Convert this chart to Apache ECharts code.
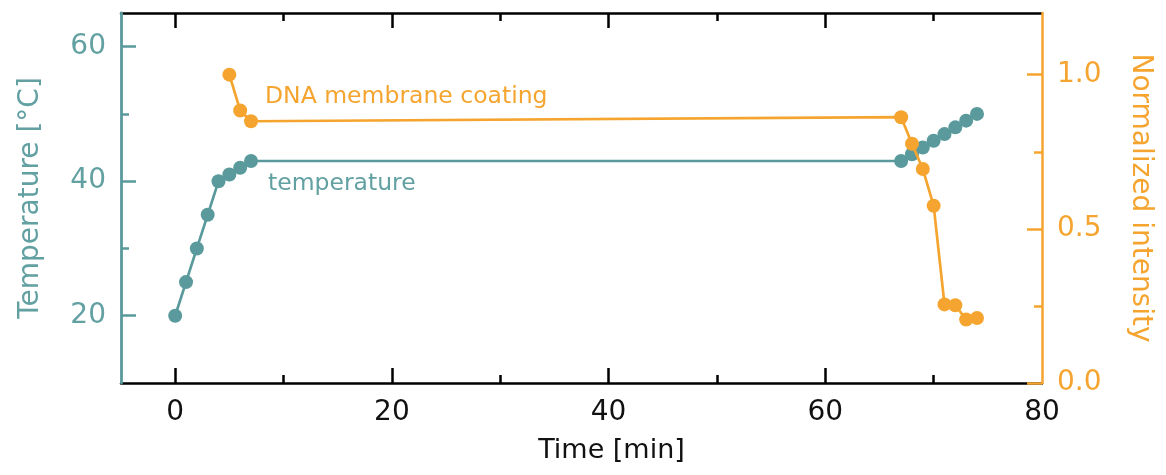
<!DOCTYPE html>
<html>
<head>
<meta charset="utf-8">
<script src="https://cdn.jsdelivr.net/npm/echarts@6/dist/echarts.min.js"></script>
<style>
html,body{margin:0;padding:0;background:#fff;}
#chart{width:1166px;height:475px;}
</style>
</head>
<body>
<div id="chart"></div>
<script>
// ---- data ----
var tempTime = [0, 1, 2, 3, 4, 5, 6, 7, 67, 68, 69, 70, 71, 72, 73, 74];
var tempValues = [20, 25, 30, 35, 40, 41, 42, 43, 43, 44, 45, 46, 47, 48, 49, 50];
var dnaTime = [5, 6, 7, 67, 68, 69, 70, 71, 72, 73, 74];
var dnaValues = [1.0, 0.884, 0.849, 0.862, 0.776, 0.694, 0.575, 0.255, 0.252, 0.206, 0.211];

var xTickLabels = [0, 20, 40, 60, 80];
var xMajorTicks = [0, 20, 40, 60];
var xMinorTicks = [10, 30, 50, 70];
var tempTicks = [20, 40, 60];
var tempMinorTicks = [30, 50];
var intTicks = [0, 0.5, 1.0];
var intMinorTicks = [0.25, 0.75];

var labelDNA = 'DNA membrane coating';
var labelTemp = 'temperature';

// ---- styles ----
var TEAL = '#5a9a9c';
var TEAL_TXT = '#62a0a2';
var ORANGE = '#f5a52f';
var FONT = 'DejaVu Sans';

function pairs(xs, ys) { return xs.map(function (x, i) { return [x, ys[i]]; }); }

var xRange = {min: -5, max: 80};
var tRange = {min: 10, max: 65};
var iRange = {min: 0, max: 1.2};

function hiddenAxisBase() {
  return {
    axisLine: {show: false, onZero: false},
    axisLabel: {show: false},
    splitLine: {show: false}
  };
}

var chart = echarts.init(document.getElementById('chart'), null, {renderer: 'canvas'});
chart.setOption({
  animation: false,
  backgroundColor: '#fff',
  grid: {left: 121, right: 124, top: 13, bottom: 92, containLabel: false},
  xAxis: [
    {
      type: 'value', position: 'bottom', min: xRange.min, max: xRange.max,
      name: 'Time [min]', nameLocation: 'middle', nameGap: 54,
      nameTextStyle: {fontFamily: FONT, fontSize: 27, color: '#111', padding: [0, 0, 0, 60]},
      axisLine: {show: true, onZero: false, lineStyle: {color: '#000', width: 2.5}},
      axisTick: {show: true, inside: true, length: 15, customValues: xMajorTicks, lineStyle: {color: '#000', width: 2.5}},
      axisLabel: {show: true, customValues: xTickLabels, margin: 16, fontFamily: FONT, fontSize: 28, color: '#111'},
      splitLine: {show: false},
      z: 1
    },
    Object.assign(hiddenAxisBase(), {
      type: 'value', position: 'bottom', min: xRange.min, max: xRange.max,
      axisTick: {show: true, inside: true, length: 8, customValues: xMinorTicks, lineStyle: {color: '#000', width: 2.5}},
      z: 1
    }),
    {
      type: 'value', position: 'top', min: xRange.min, max: xRange.max,
      axisLine: {show: true, onZero: false, lineStyle: {color: '#000', width: 2.5}},
      axisTick: {show: true, inside: true, length: 15, customValues: xMajorTicks, lineStyle: {color: '#000', width: 2.5}},
      axisLabel: {show: false},
      splitLine: {show: false},
      z: 1
    },
    Object.assign(hiddenAxisBase(), {
      type: 'value', position: 'top', min: xRange.min, max: xRange.max,
      axisTick: {show: true, inside: true, length: 8, customValues: xMinorTicks, lineStyle: {color: '#000', width: 2.5}},
      z: 1
    })
  ],
  yAxis: [
    {
      type: 'value', position: 'left', min: tRange.min, max: tRange.max,
      name: 'Temperature [°C]', nameLocation: 'middle', nameGap: 76,
      nameTextStyle: {fontFamily: FONT, fontSize: 28, color: TEAL_TXT},
      axisLine: {show: true, onZero: false, lineStyle: {color: TEAL, width: 2.8}},
      axisTick: {show: true, inside: true, length: 15, customValues: tempTicks, lineStyle: {color: TEAL, width: 2.5}},
      axisLabel: {show: true, customValues: tempTicks, margin: 15, fontFamily: FONT, fontSize: 28, color: TEAL_TXT},
      splitLine: {show: false},
      z: 2
    },
    Object.assign(hiddenAxisBase(), {
      type: 'value', position: 'left', min: tRange.min, max: tRange.max,
      axisTick: {show: true, inside: true, length: 8, customValues: tempMinorTicks, lineStyle: {color: TEAL, width: 2.5}},
      z: 2
    }),
    {
      type: 'value', position: 'right', min: iRange.min, max: iRange.max,
      name: 'Normalized intensity', nameLocation: 'middle', nameGap: 84, nameRotate: -90,
      nameTextStyle: {fontFamily: FONT, fontSize: 28, color: ORANGE},
      axisLine: {show: true, onZero: false, lineStyle: {color: ORANGE, width: 2.5}},
      axisTick: {show: true, inside: true, length: 15, customValues: intTicks, lineStyle: {color: ORANGE, width: 2.5}},
      axisLabel: {show: true, customValues: intTicks, margin: 15, fontFamily: FONT, fontSize: 28, color: ORANGE,
        formatter: function (v) { return Number(v).toFixed(1); }},
      splitLine: {show: false},
      z: 2
    },
    Object.assign(hiddenAxisBase(), {
      type: 'value', position: 'right', min: iRange.min, max: iRange.max,
      axisTick: {show: true, inside: true, length: 8, customValues: intMinorTicks, lineStyle: {color: ORANGE, width: 2.5}},
      z: 2
    })
  ],
  series: [
    {
      name: labelTemp, type: 'line', xAxisIndex: 0, yAxisIndex: 0,
      data: pairs(tempTime, tempValues),
      symbol: 'circle', symbolSize: 14, showAllSymbol: true,
      lineStyle: {color: TEAL, width: 2.7},
      itemStyle: {color: TEAL},
      z: 3
    },
    {
      name: labelDNA, type: 'line', xAxisIndex: 0, yAxisIndex: 2,
      data: pairs(dnaTime, dnaValues),
      symbol: 'circle', symbolSize: 14, showAllSymbol: true,
      lineStyle: {color: ORANGE, width: 2.7},
      itemStyle: {color: ORANGE},
      z: 4
    }
  ],
  graphic: [
    {type: 'text', left: 265, top: 85, style: {text: labelDNA, font: '23.5px "' + FONT + '"', fill: ORANGE}},
    {type: 'text', left: 268, top: 172, style: {text: labelTemp, font: '23.5px "' + FONT + '"', fill: TEAL_TXT}}
  ]
});
</script>
</body>
</html>
